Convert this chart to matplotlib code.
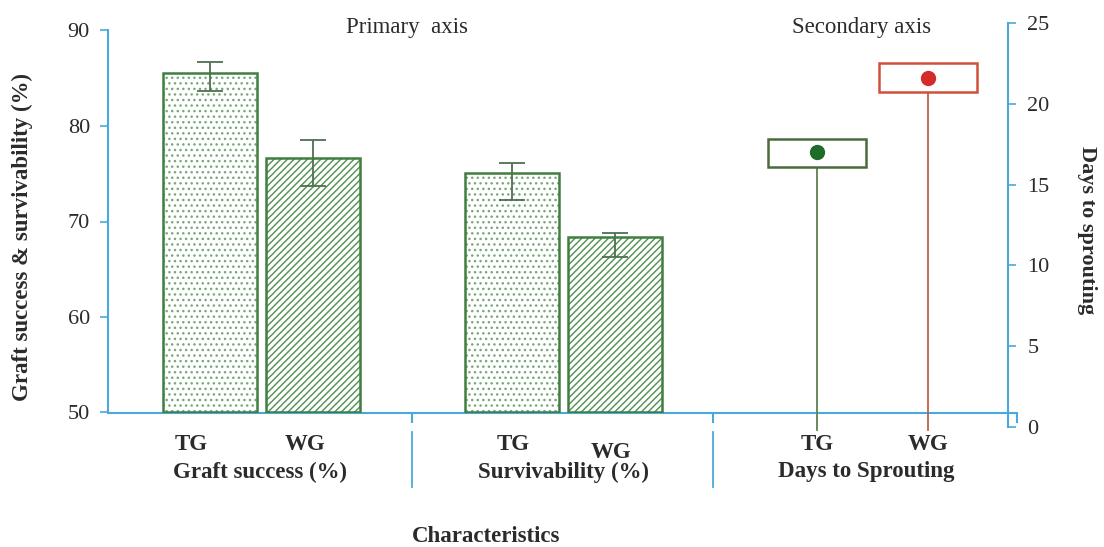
import matplotlib
matplotlib.use("Agg")
import matplotlib.pyplot as plt
from matplotlib.patches import Rectangle
from matplotlib.transforms import blended_transform_factory as btf
import numpy as np

plt.rcParams['font.family'] = ['Liberation Serif', 'DejaVu Serif']
plt.rcParams['hatch.linewidth'] = 1.0

# ---- data ----
groups = ["Graft success (%)", "Survivability (%)", "Days to Sprouting"]
treatments = ["TG", "WG"]
pct_values = {"TG": [85.6, 75.1], "WG": [76.7, 68.4]}
pct_err_up = {"TG": [1.1, 1.05], "WG": [1.85, 0.35]}
pct_err_dn = {"TG": [1.9, 2.8], "WG": [3.0, 2.15]}
days_mean = [17.0, 21.6]
days_low = [16.1, 20.75]
days_high = [17.85, 22.5]
left_ticks = [50, 60, 70, 80, 90]
right_ticks = [0, 5, 10, 15, 20, 25]

W, H = 1104, 547
fig = plt.figure(figsize=(W / 100, H / 100), dpi=100)
BLUE = '#4aa9dc'
TXT = '#2b2b2b'

def fx(px):
    return px / W

def fy(py):
    return 1 - py / H

# primary axes (x data unit = 100 px)
ax = fig.add_axes([fx(108), fy(412.5), fx(909), (412.5 - 30.5) / H])
ax.set_xlim(0, 9.09)
ax.set_ylim(50, 90)
for s in ['top', 'right']:
    ax.spines[s].set_visible(False)
for s in ['left', 'bottom']:
    ax.spines[s].set_color(BLUE)
    ax.spines[s].set_linewidth(1.5)
ax.set_yticks(left_ticks)
ax.tick_params(axis='y', colors=BLUE, labelcolor=TXT, labelsize=16, length=6, width=1.2, pad=7)
ax.set_xticks([3.04, 6.05, 9.09])
ax.set_xticklabels([])
ax.tick_params(axis='x', colors=BLUE, length=7, width=1.5, direction='out')

fig.text(fx(22), fy(237), "Graft success & survivability (%)", rotation=90, ha='center',
         va='center', fontsize=16.5, fontweight='bold', color=TXT)

# bars
edge_col = '#3f7f3f'
hatches = {"TG": '...', "WG": '/////'}
hcols = {"TG": '#78a878', "WG": '#4f8f4f'}
offsets = {"TG": -0.515, "WG": 0.515}
for t in treatments:
    xs = np.array([3 * g + 1.53 for g in range(2)]) + offsets[t] + np.array([0, 0.02])
    vals = np.array(pct_values[t])
    ax.bar(xs, vals - 50, bottom=50, width=0.94, facecolor='white', edgecolor=hcols[t],
           hatch=hatches[t], linewidth=0, zorder=2)
    ax.bar(xs, vals - 50, bottom=50, width=0.94, facecolor='none', edgecolor=edge_col,
           linewidth=1.8, zorder=3)
    ax.errorbar(xs, vals, yerr=[pct_err_dn[t], pct_err_up[t]], fmt='none', ecolor='#4f6f4f',
                elinewidth=1.3, capsize=9.5, capthick=1.3, zorder=4)

# secondary axes
ax2 = fig.add_axes([fx(108), fy(427), fx(900), (427 - 23) / H])
ax2.set_xlim(0, 9.0)
ax2.set_ylim(0, 25)
ax2.patch.set_visible(False)
for s in ['top', 'left', 'bottom']:
    ax2.spines[s].set_visible(False)
ax2.spines['right'].set_color(BLUE)
ax2.spines['right'].set_linewidth(1.5)
ax2.yaxis.tick_right()
ax2.set_yticks(right_ticks)
ax2.tick_params(axis='y', colors=BLUE, labelcolor=TXT, labelsize=16, length=6, width=1.2, pad=8)
ax2.set_xticks([])
fig.text(fx(1087), fy(230), "Days to sprouting", rotation=-90, ha='center', va='center',
         fontsize=16, fontweight='bold', color=TXT)

dcols = ['#1f6b2a', '#d42b2b']
bcols = ['#4b6b3b', '#d0503a']
scols = ['#5f7f4f', '#c0604c']
dx = [7.09, 8.2]
for i in range(2):
    ax2.plot([dx[i], dx[i]], [-0.2, days_low[i]], color=scols[i], lw=1.3, zorder=2, clip_on=False)
    ax2.add_patch(Rectangle((dx[i] - 0.49, days_low[i]), 0.98, days_high[i] - days_low[i],
                            facecolor='white', edgecolor=bcols[i], lw=1.8, zorder=3))
    ax2.plot([dx[i]], [days_mean[i]], 'o', color=dcols[i], ms=10, zorder=4)

# x labels
tr = btf(ax.transData, fig.transFigure)
lab_x = [[0.83, 1.97], [4.05, 5.03], [7.09, 8.2]]
lab_dy = [[0, 0], [0, 7], [0, 0]]
for g in range(3):
    for k, t in enumerate(treatments):
        fig.text(lab_x[g][k], fy(445 + lab_dy[g][k]), t, transform=tr, ha='center', va='center',
                 fontsize=16.5, fontweight='bold', color=TXT)
grp_x = [1.52, 4.55, 7.58]
for g in range(3):
    fig.text(grp_x[g], fy(472), groups[g], transform=tr, ha='center', va='center',
             fontsize=16.5, fontweight='bold', color=TXT)
for sx in [3.04, 6.05]:
    ax.plot([sx, sx], [fy(432), fy(487)], transform=tr, color=BLUE, lw=1.3, clip_on=False)

fig.text(fx(486), fy(537), "Characteristics", ha='center', va='center', fontsize=16.5,
         fontweight='bold', color=TXT)
fig.text(fx(407), fy(28), "Primary  axis", ha='center', va='center', fontsize=16.5, color=TXT)
fig.text(fx(862), fy(28), "Secondary axis", ha='center', va='center', fontsize=16.5, color=TXT)

fig.savefig("out.png", dpi=100)
